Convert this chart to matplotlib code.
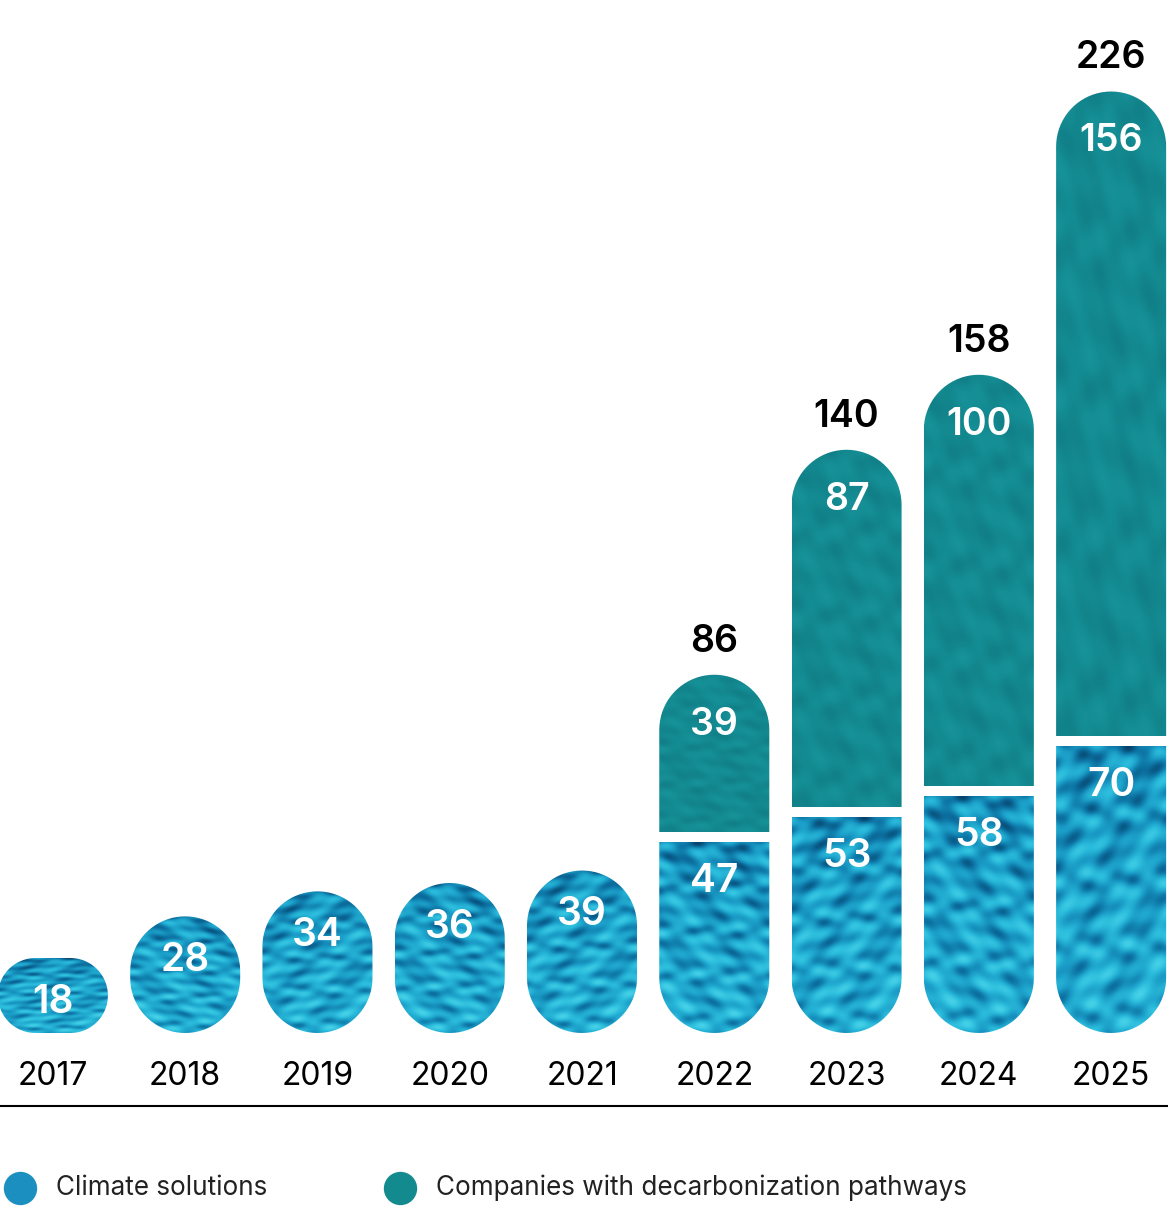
import numpy as np
import matplotlib.pyplot as plt
from matplotlib.patches import PathPatch
from matplotlib.path import Path
from matplotlib.colors import LinearSegmentedColormap

years = ['2017', '2018', '2019', '2020', '2021', '2022', '2023', '2024', '2025']
climate = [18, 28, 34, 36, 39, 47, 53, 58, 70]
pathways = [0, 0, 0, 0, 0, 39, 87, 100, 156]
totals = [c + p for c, p in zip(climate, pathways)]

plt.rcParams['font.family'] = ['Inter', 'DejaVu Sans']

fig = plt.figure(figsize=(11.68, 12.16), dpi=100)
ax = fig.add_axes([0, 0.1505, 1, 0.8462])
ax.set_xlim(-0.40, 8.43)
ax.set_ylim(0, 247)
ax.axis('off')

px_x = 132.25                 # pixels per x unit
px_y = 0.8462 * 1216 / 247    # pixels per y unit
width = 110 / px_x
gap = 10 / px_y


def pill_path(xc, h):
    # rounded both ends, radius in pixels converted to each axis
    r_px = min(55, h * px_y / 2)
    rx, ry = r_px / px_x, r_px / px_y
    x0, x1 = xc - width / 2, xc + width / 2
    pts = []
    for a in np.linspace(np.pi, 1.5 * np.pi, 20):
        pts.append((x0 + rx + rx * np.cos(a), ry + ry * np.sin(a)))
    for a in np.linspace(1.5 * np.pi, 2 * np.pi, 20):
        pts.append((x1 - rx + rx * np.cos(a), ry + ry * np.sin(a)))
    for a in np.linspace(0, 0.5 * np.pi, 20):
        pts.append((x1 - rx + rx * np.cos(a), h - ry + ry * np.sin(a)))
    for a in np.linspace(0.5 * np.pi, np.pi, 20):
        pts.append((x0 + rx + rx * np.cos(a), h - ry + ry * np.sin(a)))
    pts.append(pts[0])
    codes = [Path.MOVETO] + [Path.LINETO] * (len(pts) - 2) + [Path.CLOSEPOLY]
    return Path(pts, codes)


blue_cmap = LinearSegmentedColormap.from_list('b', ['#063f66', '#0c70a0', '#1a9cc6', '#2bbcdc', '#48d3e8'])
teal_cmap = LinearSegmentedColormap.from_list('t', ['#0d6c74', '#117e86', '#148c93', '#1a989e'])

# water-like texture
yy, xx = np.mgrid[0:300, 0:80]
pattern = (np.sin(xx * 0.16 + np.sin(yy * 0.09) * 2.0 + yy * 0.05) * 0.45
           + np.sin(yy * 0.23 - xx * 0.07) * 0.35
           + np.sin(xx * 0.41 - yy * 0.17) * 0.2)
pattern = (pattern - pattern.min()) / (pattern.max() - pattern.min())
blue_img = pattern * 0.75 + 0.25 * np.linspace(0, 1, 300)[:, None] ** 0.5
teal_img = 0.35 + pattern * 0.5

for i, (c, p, t) in enumerate(zip(climate, pathways, totals)):
    x0 = i - width / 2
    pill = PathPatch(pill_path(i, t), fc='none', ec='none')
    ax.add_patch(pill)
    top_c = c - gap / 2 if p else c
    img = blue_img[::-1] if i % 2 else blue_img[::-1, ::-1]
    im = ax.imshow(img, cmap=blue_cmap, extent=(x0, x0 + width, 0, top_c), origin='lower',
                   aspect='auto', interpolation='bicubic', zorder=1, vmin=0, vmax=1)
    im.set_clip_path(pill)
    ax.text(i, c - 44 / px_y, str(c), color='white', fontsize=28, fontweight='semibold',
            ha='center', va='center', zorder=3)
    if p:
        im2 = ax.imshow(teal_img, cmap=teal_cmap, extent=(x0, x0 + width, c + gap / 2, t),
                        aspect='auto', interpolation='bicubic', zorder=1, vmin=0, vmax=1)
        im2.set_clip_path(pill)
        ax.text(i, t - 50 / px_y, str(p), color='white', fontsize=27, fontweight='semibold',
                ha='center', va='center', zorder=3)
        ax.text(i, t + 33 / px_y, str(t), color='black', fontsize=27, fontweight='semibold',
                ha='center', va='center', zorder=3)
    ax.text(i, -44 / px_y, years[i], color='black', fontsize=23, ha='center', va='center')

fig.add_artist(plt.Line2D([0, 1], [1 - 1106 / 1216] * 2, color='black', lw=1.5))

ly = 1 - 1188 / 1216
fig.add_artist(plt.Line2D([20 / 1168], [ly], marker='o', ms=24, color='#1a8fc0', mec='none'))
fig.add_artist(plt.Line2D([400 / 1168], [ly], marker='o', ms=24, color='#128a8e', mec='none'))
fig.text(56 / 1168, ly, 'Climate solutions', fontsize=18.8, va='center', color='#222222')
fig.text(436 / 1168, ly, 'Companies with decarbonization pathways', fontsize=18.8,
         va='center', color='#222222')

fig.savefig('out.png', dpi=100)
